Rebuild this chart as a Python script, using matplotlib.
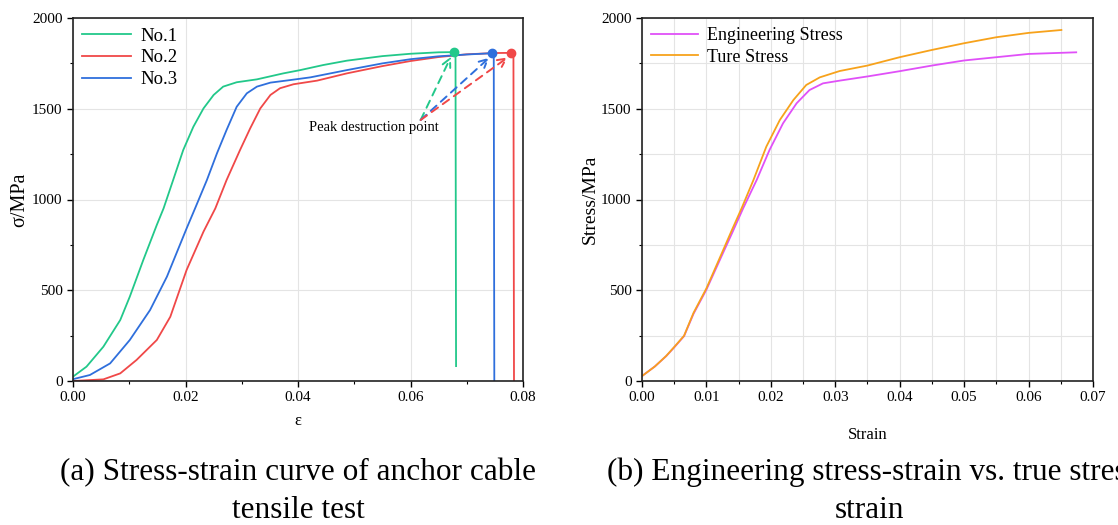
import matplotlib.pyplot as plt
from matplotlib.ticker import MultipleLocator

plt.rcParams['font.family'] = ['Liberation Serif', 'DejaVu Serif']

# (a) anchor cable tensile test, three specimens
no1_strain = [0.0, 0.0024, 0.0054, 0.0084, 0.0101, 0.0125, 0.0149, 0.0161, 0.0178, 0.0196, 0.0214,
              0.0232, 0.025, 0.0267, 0.0291, 0.0327, 0.0374, 0.0404, 0.0445, 0.0487, 0.055, 0.060,
              0.065, 0.0677, 0.0680, 0.0681]
no1_stress = [24, 79, 189, 336, 465, 667, 860, 951, 1107, 1273, 1401,
              1502, 1576, 1622, 1646, 1662, 1695, 1713, 1741, 1765, 1790, 1803,
              1811, 1812, 1810, 82]

no2_strain = [0.0, 0.0054, 0.0084, 0.0113, 0.0149, 0.0173, 0.0202, 0.0232, 0.0253, 0.0273, 0.0297,
              0.0315, 0.0333, 0.0351, 0.0368, 0.0392, 0.0434, 0.0487, 0.055, 0.060, 0.065, 0.070,
              0.075, 0.0778, 0.0783, 0.0784]
no2_stress = [0, 9, 42, 116, 226, 354, 612, 823, 951, 1107, 1273,
              1392, 1502, 1576, 1613, 1635, 1655, 1695, 1735, 1763, 1785, 1800,
              1807, 1808, 1805, 0]

no3_strain = [0.0, 0.003, 0.0066, 0.0101, 0.0137, 0.0167, 0.0202, 0.0217, 0.0238, 0.0256, 0.0273,
              0.0291, 0.0309, 0.0327, 0.0351, 0.0386, 0.0422, 0.0487, 0.055, 0.060, 0.065, 0.070,
              0.0745, 0.0748, 0.0749]
no3_stress = [10, 33, 97, 226, 391, 575, 841, 951, 1107, 1255, 1383,
              1511, 1585, 1622, 1644, 1658, 1673, 1713, 1750, 1773, 1789, 1799,
              1806, 1804, 0]

peak_strain = [0.0677, 0.0745, 0.0778]
peak_stress = [1812, 1806, 1808]

# (b) engineering vs true stress
eng_strain = [0.0, 0.002, 0.00376, 0.005, 0.00653, 0.008, 0.01, 0.012, 0.014, 0.0157, 0.0178, 0.0198,
              0.0219, 0.024, 0.026, 0.0281, 0.0307, 0.035, 0.040, 0.045, 0.050, 0.055, 0.060, 0.0674]
eng_stress = [27, 80, 137, 185, 247, 370, 503, 660, 816, 951, 1107, 1273,
              1420, 1530, 1603, 1640, 1655, 1678, 1707, 1738, 1766, 1784, 1802, 1811]

true_strain = [0.0, 0.002, 0.00376, 0.005, 0.00653, 0.008, 0.01, 0.012, 0.014, 0.01546, 0.0173, 0.0193,
               0.0214, 0.0235, 0.0255, 0.0276, 0.0307, 0.035, 0.040, 0.045, 0.050, 0.055, 0.060, 0.0651]
true_stress = [27, 80, 138, 187, 249, 375, 510, 672, 835, 951, 1107, 1291,
               1438, 1548, 1631, 1673, 1708, 1738, 1784, 1824, 1861, 1894, 1918, 1934]

c_green = '#22c88a'
c_red = '#f04848'
c_blue = '#2f6fdc'
c_mag = '#e050f8'
c_orange = '#f7a21b'

fig = plt.figure(figsize=(11.18, 5.25), dpi=100)
ax1 = fig.add_axes([0.0653, 0.2743, 0.4025, 0.6914])
ax2 = fig.add_axes([0.5742, 0.2743, 0.4034, 0.6914])

lw = 1.3
ax1.plot(no1_strain, no1_stress, color=c_green, lw=lw, label='No.1')
ax1.plot(no2_strain, no2_stress, color=c_red, lw=lw, label='No.2')
ax1.plot(no3_strain, no3_stress, color=c_blue, lw=lw, label='No.3')
for px, py, c in zip(peak_strain, peak_stress, [c_green, c_blue, c_red]):
    ax1.plot(px, py, 'o', ms=6, color=c, mec=c, zorder=5)

arrow_start = (0.0618, 1438)
for px, py, c in zip(peak_strain, peak_stress, [c_green, c_blue, c_red]):
    ax1.annotate('', xy=(px - 0.0005, py - 25), xytext=arrow_start,
                 arrowprops=dict(arrowstyle='->', color=c, lw=1.4, linestyle=(0, (4, 3)),
                                 shrinkA=0, shrinkB=0, mutation_scale=15))
ax1.text(0.0535, 1394, 'Peak destruction point', fontsize=10.5, ha='center', va='center')

ax1.set_xlim(0, 0.08)
ax1.set_ylim(0, 2000)
ax1.xaxis.set_major_locator(MultipleLocator(0.02))
ax1.xaxis.set_minor_locator(MultipleLocator(0.01))
ax1.yaxis.set_major_locator(MultipleLocator(500))
ax1.yaxis.set_minor_locator(MultipleLocator(250))
ax1.xaxis.set_major_formatter(plt.FormatStrFormatter('%.2f'))
ax1.grid(True, which='major', color='#e4e4e4', lw=0.8)
ax1.set_xlabel('ε', fontsize=12, labelpad=6)
ax1.set_ylabel('σ/MPa', fontsize=14.5, labelpad=2)
ax1.legend(loc='upper left', frameon=False, fontsize=13.5, handlelength=2.6,
           borderaxespad=0.1, labelspacing=0.25, handletextpad=0.5)

ax2.plot(eng_strain, eng_stress, color=c_mag, lw=lw, label='Engineering Stress')
ax2.plot(true_strain, true_stress, color=c_orange, lw=lw, label='Ture Stress')
ax2.set_xlim(0, 0.07)
ax2.set_ylim(0, 2000)
ax2.xaxis.set_major_locator(MultipleLocator(0.01))
ax2.xaxis.set_minor_locator(MultipleLocator(0.005))
ax2.yaxis.set_major_locator(MultipleLocator(500))
ax2.yaxis.set_minor_locator(MultipleLocator(250))
ax2.xaxis.set_major_formatter(plt.FormatStrFormatter('%.2f'))
ax2.grid(True, which='both', color='#e4e4e4', lw=0.8)
ax2.set_xlabel('Strain', fontsize=12, labelpad=16)
ax2.set_ylabel('Stress/MPa', fontsize=14, labelpad=2)
ax2.legend(loc='upper left', frameon=False, fontsize=13, handlelength=2.6,
           borderaxespad=0.1, labelspacing=0.25, handletextpad=0.5)

for ax in (ax1, ax2):
    ax.set_axisbelow(True)
    for s in ax.spines.values():
        s.set_linewidth(1.2)
        s.set_color('#222222')
    ax.tick_params(which='major', direction='out', length=4, width=1, labelsize=11)
    ax.tick_params(which='minor', direction='out', length=2.5, width=0.8)

fig.text(0.2666, 0.100, '(a) Stress-strain curve of anchor cable', fontsize=22.5, ha='center', va='center')
fig.text(0.2666, 0.028, 'tensile test', fontsize=22.5, ha='center', va='center')
fig.text(0.5425, 0.100, '(b) Engineering stress-strain vs. true stress-', fontsize=22.5, ha='left', va='center')
fig.text(0.778, 0.028, 'strain', fontsize=22.5, ha='center', va='center')

fig.savefig('out.png', dpi=100)
